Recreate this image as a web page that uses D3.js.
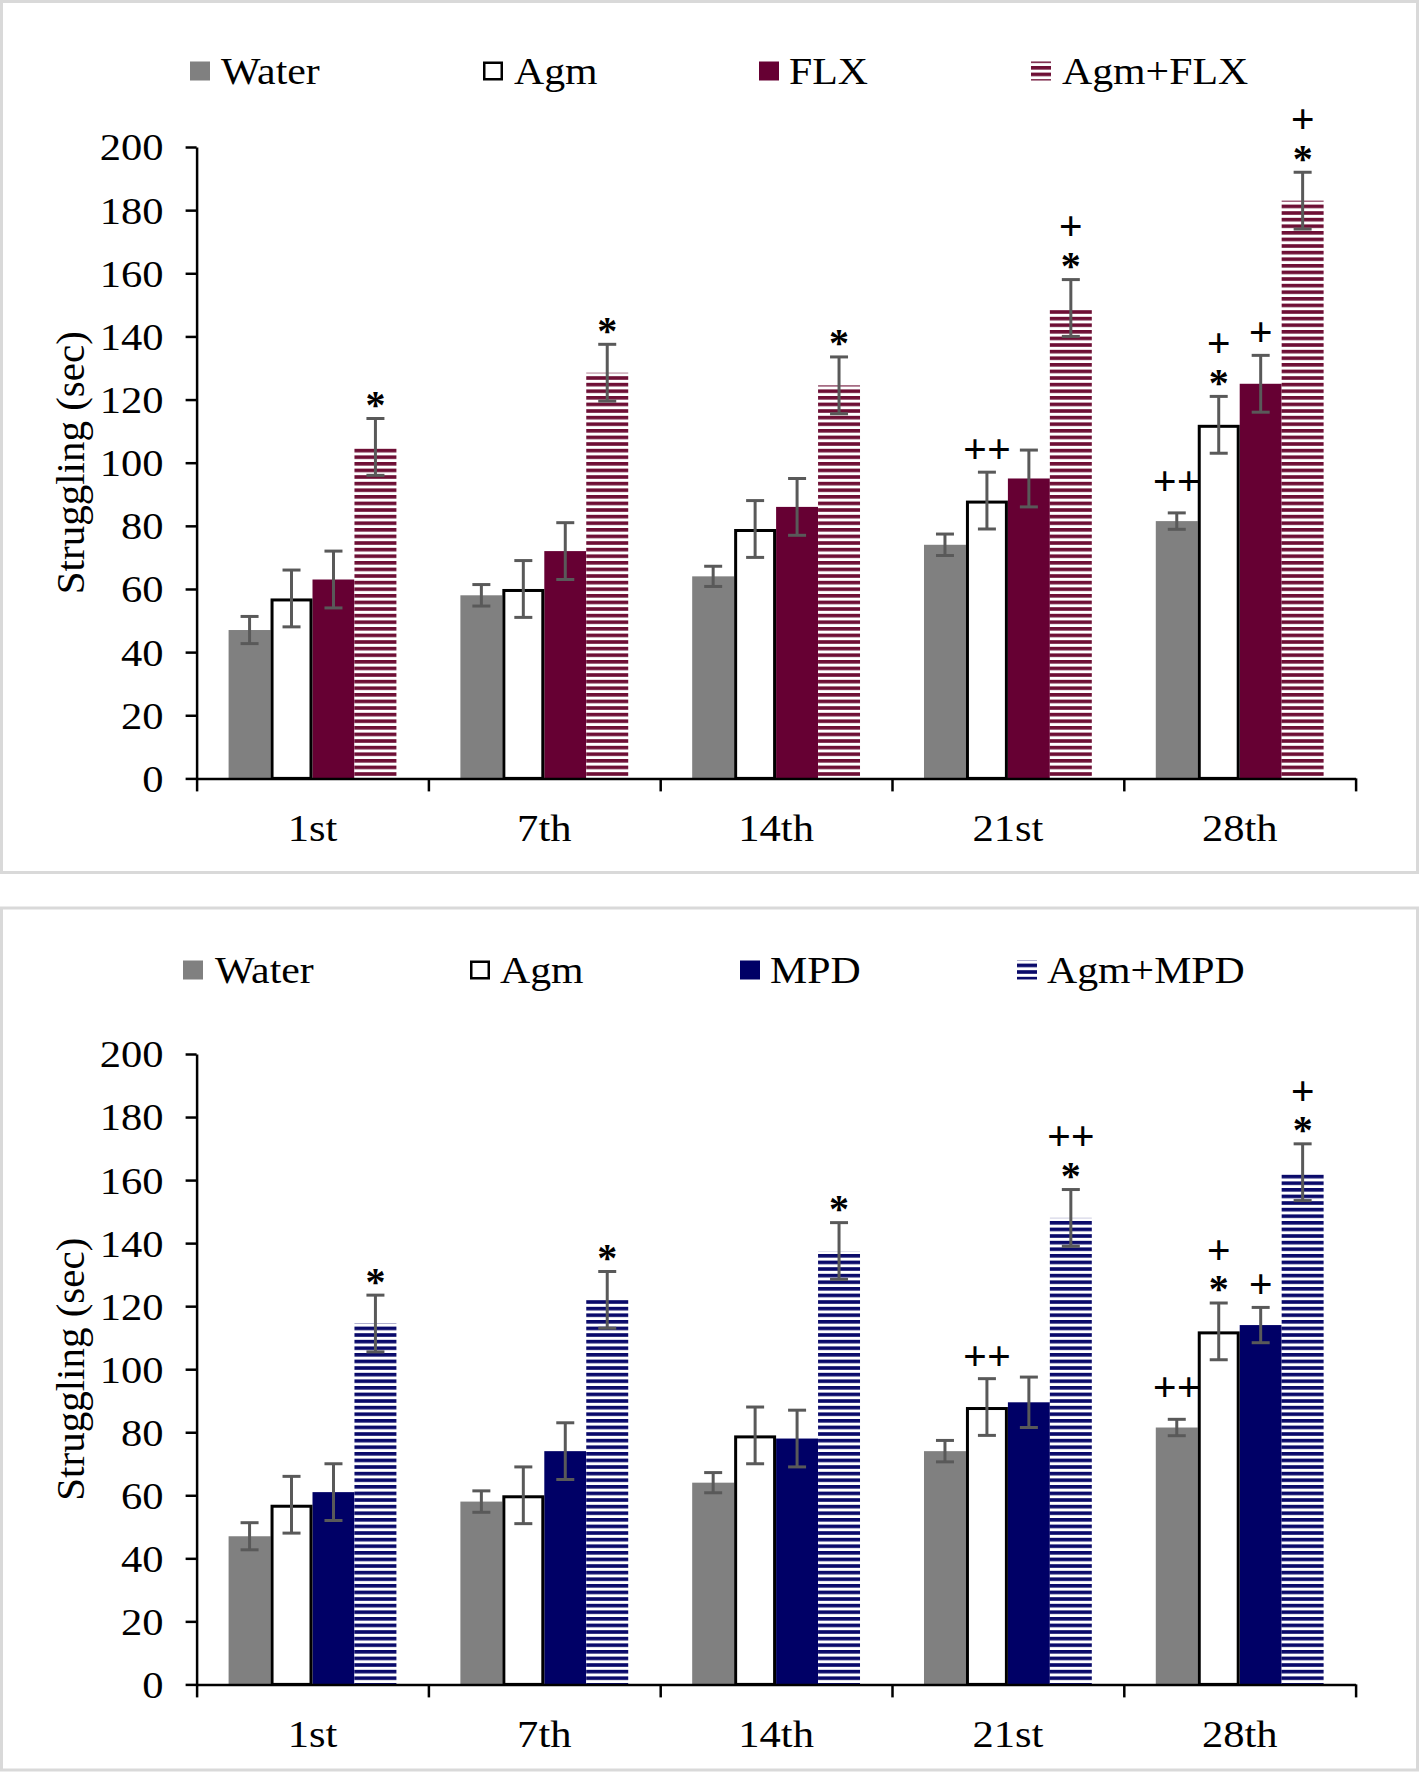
<!DOCTYPE html>
<html>
<head>
<meta charset="utf-8">
<script src="https://cdnjs.cloudflare.com/ajax/libs/d3/7.8.5/d3.min.js"></script>
<style>
  body { margin: 0; background: #fff; }
  text { font-family: "Liberation Serif", "Times New Roman", serif; fill: #000; }
</style>
</head>
<body>
<div id="chart"></div>
<script>
// test days
var days = ["1st", "7th", "14th", "21st", "28th"];

// group means (sec) and error bars
var waterMean = [47, 58, 64, 74, 81.5];
var waterErr = [4.3, 3.4, 3.2, 3.4, 2.6];
var agmMean = [57, 60, 79, 88, 112];
var agmErr = [9, 9, 9, 9, 9];
var flxMean = [63, 72, 86, 95, 125];
var flxErr = [9, 9, 9, 9, 9];
var agmFlxMean = [105, 128.5, 124.5, 149, 183];
var agmFlxErr = [9, 9, 9, 9, 9];
var mpdMean = [61, 74, 78, 89.5, 114];
var mpdErr = [9, 9, 9, 8, 5.6];
var agmMpdMean = [114.5, 122, 137.5, 148, 162.5];
var agmMpdErr = [9, 9, 9, 9, 9];

// significance marks, listed bottom-up above each bar
var waterMarks = [[], [], [], [], ["++"]];
var agmMarks = [[], [], [], ["++"], ["*", "+"]];
var flxMarks = [[], [], [], [], ["+"]];
var agmFlxMarks = [["*"], ["*"], ["*"], ["*", "+"], ["*", "+"]];
var mpdMarks = [[], [], [], [], ["+"]];
var agmMpdMarks = [["*"], ["*"], ["*"], ["*", "++"], ["*", "+"]];

var yTicks = [0, 20, 40, 60, 80, 100, 120, 140, 160, 180, 200];

var W = 1420, H = 1772;

var svg = d3.select('#chart').append('svg')
    .attr('width', W).attr('height', H)
    .style('display', 'block');

var defs = svg.append('defs');
function stripes(id, color) {
    var p = defs.append('pattern').attr('id', id)
        .attr('patternUnits', 'userSpaceOnUse')
        .attr('width', 12).attr('height', 6.6);
    p.append('rect').attr('width', 12).attr('height', 6.6).attr('fill', '#fff');
    p.append('rect').attr('y', 0).attr('width', 12).attr('height', 3.6).attr('fill', color);
}
stripes('hatchFLX', '#6e0f35');
stripes('hatchMPD', '#0a0a6a');

// the figure's lettering is a little wide
function wideText(sel, x, y, sx) {
    sel.attr('transform', 'translate(' + x + ',' + y + ') scale(' + sx + ',1)');
}

function drawPanel(p) {
    var g = svg.append('g');

    g.append('rect')
        .attr('x', 1.5).attr('y', p.boxTop)
        .attr('width', 1416).attr('height', p.boxHeight)
        .attr('fill', 'none').attr('stroke', '#d9d9d9').attr('stroke-width', 3);

    var left = 196.6, right = 1355.6;
    var y = d3.scaleLinear().domain([0, 200]).range([p.y0, p.y200]);
    var x0 = d3.scaleBand().domain(days).range([left, right])
        .paddingInner(0.276).paddingOuter(0.138);
    var x1 = d3.scaleBand().domain(p.series).range([0, x0.bandwidth()]);

    var fills = ['#808080', '#ffffff', p.color, 'url(#' + p.hatch + ')'];

    // rows for every bar
    var rows = [];
    p.series.forEach(function(s, i) {
        days.forEach(function(d, j) {
            rows.push({ day: d, key: s, idx: i, value: p.means[i][j], err: p.errs[i][j], marks: p.marks[i][j] });
        });
    });

    // bars (outlined Agm bars last so their frame is on top)
    var order = rows.slice().sort(function(a, b) { return (a.idx === 1) - (b.idx === 1); });
    g.selectAll('rect.bar')
        .data(order)
        .enter()
        .append('rect')
        .attr('class', 'bar')
        .attr('x', function(d) { return x0(d.day) + x1(d.key) + (d.idx === 1 ? 1.5 : 0); })
        .attr('y', function(d) { return y(d.value) + (d.idx === 1 ? 1.5 : 0); })
        .attr('width', function(d) { return x1.bandwidth() - (d.idx === 1 ? 3 : 0); })
        .attr('height', function(d) { return y(0) - y(d.value) - (d.idx === 1 ? 1.5 : 0); })
        .attr('fill', function(d) { return fills[d.idx]; })
        .attr('stroke', function(d) { return d.idx === 1 ? '#000' : 'none'; })
        .attr('stroke-width', 3);

    // x axis: ticks at group boundaries
    var xb = d3.scaleLinear().domain([0, days.length]).range([left, right]);
    var xAxis = g.append('g').attr('transform', 'translate(0,' + p.y0 + ')')
        .call(d3.axisBottom(xb).tickValues(d3.range(days.length + 1)).tickFormat('')
            .tickSize(13).tickSizeOuter(0));
    xAxis.selectAll('path, line').attr('stroke', '#000').attr('stroke-width', 2.5);

    g.selectAll('text.day')
        .data(days)
        .enter()
        .append('text')
        .attr('class', 'day')
        .attr('text-anchor', 'middle')
        .attr('font-size', 38)
        .text(function(d) { return d; })
        .each(function(d) { wideText(d3.select(this), x0(d) + x0.bandwidth() / 2, p.y0 + 63, 1.12); });

    // y axis
    var yAxis = g.append('g').attr('transform', 'translate(' + left + ',0)')
        .call(d3.axisLeft(y).tickValues(yTicks).tickSize(11).tickSizeOuter(0));
    yAxis.selectAll('path, line').attr('stroke', '#000').attr('stroke-width', 2.5);
    yAxis.selectAll('text')
        .attr('x', 0).attr('dy', '0.34em')
        .attr('font-size', 38)
        .attr('font-family', '"Liberation Serif", "Times New Roman", serif')
        .attr('fill', '#000')
        .attr('transform', 'translate(-33,0) scale(1.12,1)');

    g.append('text')
        .attr('transform', 'translate(70,' + ((p.y0 + p.y200) / 2) + ') rotate(-90)')
        .attr('text-anchor', 'middle')
        .attr('dy', '0.35em')
        .attr('font-size', 41)
        .text('Struggling (sec)');

    // error bars
    var eb = g.selectAll('g.err').data(rows).enter().append('g').attr('class', 'err')
        .attr('stroke', '#595959').attr('stroke-width', 3);
    function cx(d) { return x0(d.day) + x1(d.key) + x1.bandwidth() / 2; }
    eb.append('line')
        .attr('x1', cx).attr('x2', cx)
        .attr('y1', function(d) { return y(d.value + d.err); })
        .attr('y2', function(d) { return y(d.value - d.err); });
    eb.append('line')
        .attr('x1', function(d) { return cx(d) - 9; }).attr('x2', function(d) { return cx(d) + 9; })
        .attr('y1', function(d) { return y(d.value + d.err); })
        .attr('y2', function(d) { return y(d.value + d.err); });
    eb.append('line')
        .attr('x1', function(d) { return cx(d) - 9; }).attr('x2', function(d) { return cx(d) + 9; })
        .attr('y1', function(d) { return y(d.value - d.err); })
        .attr('y2', function(d) { return y(d.value - d.err); });

    // significance marks: one text per bar, stacked lines as tspans
    var marked = rows.filter(function(d) { return d.marks.length > 0; });
    var mt = g.selectAll('text.mark')
        .data(marked)
        .enter()
        .append('text')
        .attr('class', 'mark')
        .attr('text-anchor', 'middle')
        .attr('font-family', '"Liberation Sans", Arial, sans-serif')
        .attr('font-weight', 'bold');
    mt.each(function(d) {
        var t = d3.select(this);
        var top = y(d.value + d.err);
        d.marks.forEach(function(m, k) {
            // the water-bar marks sit a little higher in the figure
            var first = d.idx === 0 ? 32 : 23;
            var center = top - (k === 0 ? first : 53);
            var star = m === '*';
            var F = star ? 40 : 42;
            t.append('tspan')
                .attr('x', cx(d))
                .attr('y', center + (star ? 0.56 * F : 0.33 * F))
                .attr('font-size', F)
                .text(m);
        });
    });

    // legend
    var lg = g.append('g');
    p.series.forEach(function(s, i) {
        lg.append('rect')
            .attr('x', p.legendMarkX[i] + (i === 1 ? 1.25 : 0))
            .attr('y', p.legendY - 9.5 + (i === 1 ? 1.25 : 0))
            .attr('width', 20 - (i === 1 ? 2.5 : 0))
            .attr('height', 19 - (i === 1 ? 2.5 : 0))
            .attr('fill', fills[i])
            .attr('stroke', i === 1 ? '#000' : 'none')
            .attr('stroke-width', 2.5);
        var t = lg.append('text').attr('font-size', 38).text(s);
        wideText(t, p.legendTextX[i], p.legendY + 12.5, 1.1);
    });
}

drawPanel({
    boxTop: 1.5, boxHeight: 871,
    y0: 778.4, y200: 147,
    series: ['Water', 'Agm', 'FLX', 'Agm+FLX'],
    color: '#660033', hatch: 'hatchFLX',
    means: [waterMean, agmMean, flxMean, agmFlxMean],
    errs: [waterErr, agmErr, flxErr, agmFlxErr],
    marks: [waterMarks, agmMarks, flxMarks, agmFlxMarks],
    legendY: 71,
    legendMarkX: [190, 483, 759, 1031],
    legendTextX: [221, 514, 789, 1062]
});

drawPanel({
    boxTop: 908, boxHeight: 862,
    y0: 1684.4, y200: 1054,
    series: ['Water', 'Agm', 'MPD', 'Agm+MPD'],
    color: '#000066', hatch: 'hatchMPD',
    means: [waterMean, agmMean, mpdMean, agmMpdMean],
    errs: [waterErr, agmErr, mpdErr, agmMpdErr],
    marks: [waterMarks, agmMarks, mpdMarks, agmMpdMarks],
    legendY: 970,
    legendMarkX: [183, 470, 740, 1017],
    legendTextX: [215, 500, 770, 1047]
});
</script>
</body>
</html>
